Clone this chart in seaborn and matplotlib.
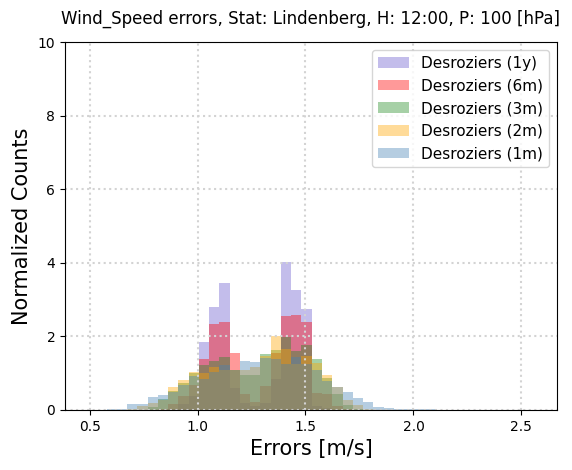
import numpy as np
import pandas as pd
import matplotlib
matplotlib.use("Agg")
import matplotlib.pyplot as plt
import seaborn as sns

# common bins for all runs
bin_start = 0.484
bin_width = 0.0475
n_bins = 44

labels = ["Desroziers (1y)", "Desroziers (6m)", "Desroziers (3m)", "Desroziers (2m)", "Desroziers (1m)"]
colors = ["slateblue", "red", "forestgreen", "orange", "steelblue"]

# normalized counts per bin
dens_1y = [0, 0, 0, 0, 0, 0, 0, 0,
           0.03, 0.16, 0.39, 1.86, 2.81, 3.46, 0.60, 0.20, 0.10, 0.20, 0.85, 4.03, 3.25, 2.75, 0.10, 0.05,
           0, 0, 0, 0, 0, 0, 0, 0, 0, 0, 0, 0, 0, 0, 0, 0, 0, 0, 0, 0]
dens_6m = [0, 0, 0, 0, 0, 0, 0,
           0.03, 0.16, 0.39, 0.68, 1.39, 2.34, 2.38, 1.56, 0.43, 0.21, 0.64, 1.56, 2.56, 2.59, 2.40, 0.45, 0.43, 0.10, 0.03,
           0, 0, 0, 0, 0, 0, 0, 0, 0, 0, 0, 0, 0, 0, 0, 0, 0, 0]
dens_3m = [0, 0, 0, 0, 0, 0,
           0.07, 0.29, 0.52, 0.73, 1.00, 1.21, 1.34, 1.43, 1.10, 0.96, 0.96, 1.53, 1.64, 1.98, 1.61, 1.77, 1.39, 0.87, 0.44, 0.14, 0.03,
           0, 0, 0, 0, 0, 0, 0, 0, 0, 0, 0, 0, 0, 0, 0, 0, 0]
dens_2m = [0, 0, 0, 0,
           0.03, 0.11, 0.19, 0.27, 0.63, 0.82, 1.02, 1.00, 1.16, 1.09, 1.09, 1.09, 1.17, 1.48, 2.02, 1.65, 1.26, 1.48, 1.29, 0.96, 0.62, 0.26, 0.14, 0.03,
           0, 0, 0, 0, 0, 0, 0, 0, 0, 0, 0, 0, 0, 0, 0, 0]
dens_1m = [0, 0,
           0.03, 0.03, 0.16, 0.16, 0.36, 0.41, 0.50, 0.68, 0.91, 0.84,
           1.04, 1.23, 1.08, 1.34, 1.30, 1.41, 1.39, 1.26, 1.45, 1.24,
           1.09, 0.80, 0.63, 0.48, 0.33, 0.22, 0.09, 0.06, 0.03, 0.03,
           0.02, 0.02, 0.01, 0.01, 0.01, 0.01, 0.01, 0.005, 0.005, 0.005, 0.005, 0.005]

all_dens = [dens_1y, dens_6m, dens_3m, dens_2m, dens_1m]

edges = bin_start + bin_width * np.arange(n_bins + 1)
centers = edges[:-1] + bin_width / 2

fig, ax = plt.subplots(figsize=(5.72, 4.70), dpi=100)
fig.subplots_adjust(left=0.1136, right=0.9738, bottom=0.1277, top=0.9106)

for dens, col, lab in zip(all_dens, colors, labels):
    df = pd.DataFrame({"err": centers, "dens": dens})
    sns.histplot(data=df, x="err", weights="dens", bins=list(edges), stat="count",
                 color=col, alpha=0.4, linewidth=0, label=lab, ax=ax)

ax.set_xlim(0.386, 2.665)
ax.set_ylim(0, 10)
ax.set_xticks([0.5, 1.0, 1.5, 2.0, 2.5])
ax.grid(True, linestyle=":", color="lightgrey", linewidth=1.5)
ax.set_title("Wind_Speed errors, Stat: Lindenberg, H: 12:00, P: 100 [hPa]", pad=13)
ax.set_xlabel("Errors [m/s]", fontsize=15)
ax.set_ylabel("Normalized Counts", fontsize=15)
ax.legend(loc="upper right", fontsize=11)

fig.savefig("out.png", dpi=100)
